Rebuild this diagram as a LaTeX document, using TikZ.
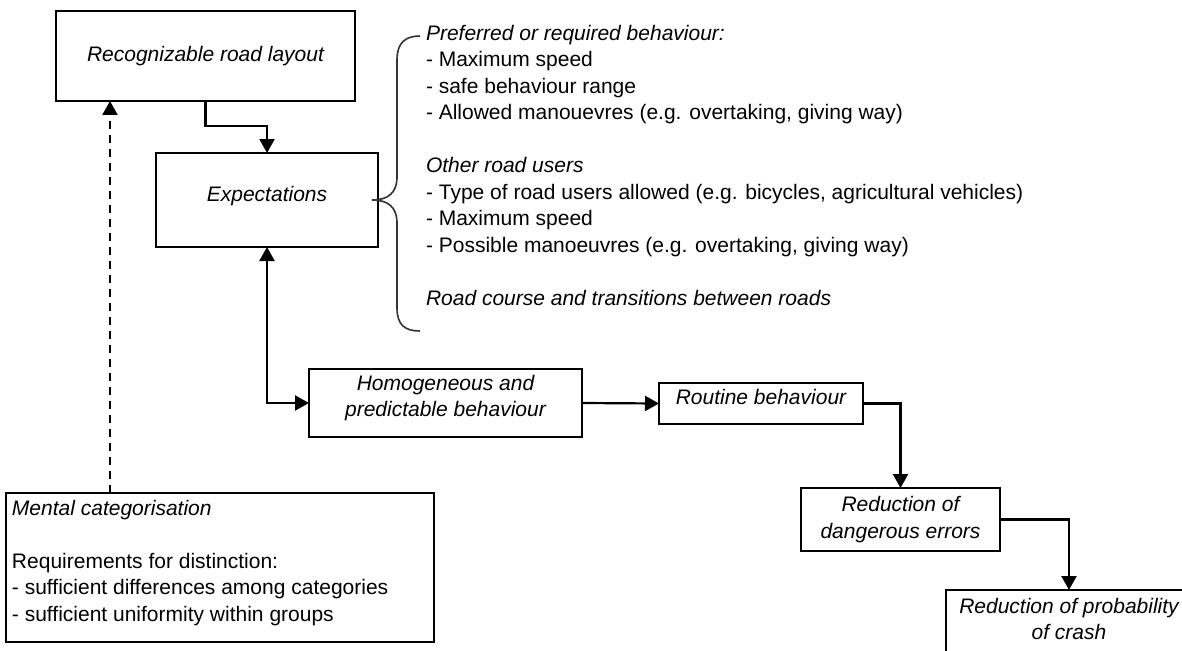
\documentclass[tikz,border=0pt]{standalone}
\usepackage{fontspec}
\setmainfont{Liberation Sans}
\usetikzlibrary{arrows.meta}
\definecolor{c333333}{RGB}{51,51,51}
\newcommand{\figfont}{\fontsize{21}{26.5}\selectfont}

\tikzset{
  box/.style={draw=black, line width=1.7pt, align=center, font=\figfont\itshape},
  link/.style={draw=black, line width=2.2pt, line join=miter, ->},
}

\begin{document}
\begin{tikzpicture}[y=1pt, x=1pt, yscale=-1, inner sep=0pt, outer sep=0pt,
  >={Triangle[length=14pt,width=15pt]}, font=\figfont]
  \path[fill=white,use as bounding box] (0,0) rectangle (1182,650);
  \clip (0,0) rectangle (1182,650);
  \node[box, minimum width=299pt, minimum height=90pt] (rec) at (205.5,56)
    {Recognizable road layout};
  \node[box, minimum width=222pt, minimum height=94pt, text depth=12pt] (exp) at (267,200)
    {Expectations};
  \node[box, minimum width=273pt, minimum height=68pt, text depth=14pt] (homog) at (445.5,403)
    {Homogeneous and\\predictable behaviour};
  \node[box, minimum width=204pt, minimum height=41pt, text depth=14pt] (routine) at (761,403.5)
    {Routine behaviour};
  \node[box, minimum width=199pt, minimum height=63pt] (reddang) at (900.5,519.5)
    {Reduction of\\dangerous errors};
  \node[box, minimum width=246pt, minimum height=72pt, text depth=14pt] (crash) at (1069,626)
    {Reduction of probability\\of crash};
  \node[draw=black, line width=1.7pt, minimum width=428pt, minimum height=149pt,
    anchor=north west] (mental) at (6,493) {};
  \node[align=left, anchor=north west] (mentaltext) at ([xshift=6pt,yshift=7pt]mental.north west)
    {\textit{Mental categorisation}\\[26.5pt]Requirements for distinction:\\
    - sufficient differences among categories\\- sufficient uniformity within groups};
  \node[align=left, anchor=north west] (prefs) at (426,25)
    {\textit{Preferred or required behaviour:}\\- Maximum speed\\
    - safe behaviour range\\- Allowed manouevres (e.g. overtaking, giving way)\\[26.5pt]
    \textit{Other road users}\\- Type of road users allowed (e.g. bicycles, agricultural vehicles)\\
    - Maximum speed\\- Possible manoeuvres (e.g. overtaking, giving way)\\[26.5pt]
    \textit{Road course and transitions between roads}};
  \path[draw=c333333, line width=1.6pt] (420,36) .. controls (405,36) and
    (397,43) .. (397,60) -- (397,177) .. controls (397,193) and (388,200) ..
    (372,200) .. controls (388,200) and (397,207) .. (397,223) -- (397,308)
    .. controls (397,325) and (405,331) .. (420,331);
  \coordinate (dashx) at (110,0);
  \path[link] (rec.south) -- ++(0,25) -| (exp.north);
  \path[link, dash pattern=on 8pt off 6pt] (mental.north -| dashx) -- (rec.south -| dashx);
  \path[link, <->] (exp.south) |- (homog.west);
  \path[link] (homog.east) -- (routine.west);
  \path[link] (routine.east) -| (reddang.north);
  \path[link] (reddang.east) -| (crash.north);
\end{tikzpicture}
\end{document}
